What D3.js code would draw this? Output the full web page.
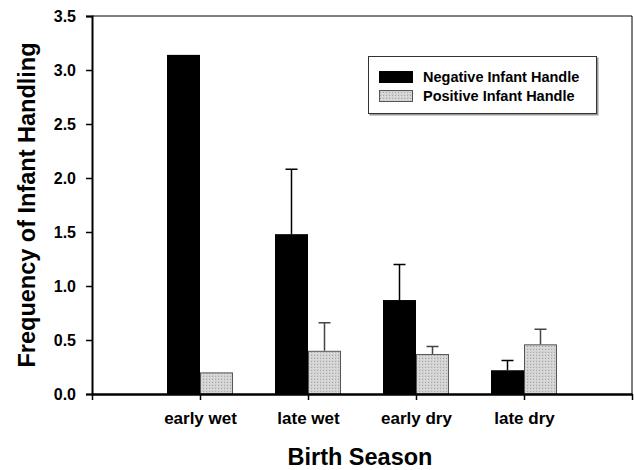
<!DOCTYPE html>
<html>
<head>
<meta charset="utf-8">
<script src="https://cdnjs.cloudflare.com/ajax/libs/d3/7.8.5/d3.min.js"></script>
<style>
body { margin: 0; background: #fff; }
text { font-family: "Liberation Sans", Arial, sans-serif; font-weight: bold; }
</style>
</head>
<body>
<svg></svg>
<script>
var width = 634,
    height = 470;
var svg = d3.select("svg")
    .attr("width", width)
    .attr("height", height);

// data
var seasons = ["early wet", "late wet", "early dry", "late dry"];
var negative = [3.14, 1.48, 0.87, 0.22];
var negativeErr = [null, 2.08, 1.20, 0.31]; // top of error bar
var positive = [0.20, 0.40, 0.37, 0.46];
var positiveErr = [null, 0.66, 0.44, 0.60];
var yTicks = [0, 0.5, 1.0, 1.5, 2.0, 2.5, 3.0, 3.5];
var seriesNames = ["Negative Infant Handle", "Positive Infant Handle"];

var margin = {left: 92, top: 16, right: 2, bottom: 76};
var pw = width - margin.left - margin.right,
    ph = height - margin.top - margin.bottom;

// positions 0..5, categories sit at 1..4
var x = d3.scaleLinear().domain([0, seasons.length + 1]).range([0, pw]);
var y = d3.scaleLinear().domain([0, 3.5]).range([ph, 0]);
var barW = 33;

// dotted grey fill
var defs = svg.append("defs");
var pat = defs.append("pattern")
    .attr("id", "dots")
    .attr("width", 3).attr("height", 3)
    .attr("patternUnits", "userSpaceOnUse");
pat.append("rect").attr("width", 3).attr("height", 3).attr("fill", "#d2d2d2");
pat.append("rect").attr("width", 1).attr("height", 1).attr("fill", "#a8a8a8");
pat.append("rect").attr("x", 2).attr("y", 1).attr("width", 1).attr("height", 1).attr("fill", "#e4e4e4");

var g = svg.append("g").attr("transform", "translate(" + margin.left + "," + margin.top + ")");

// top & right frame
g.append("path")
    .attr("d", "M0,0H" + pw + "V" + ph)
    .attr("fill", "none")
    .attr("stroke", "#000")
    .attr("stroke-width", 1);

// bars
var bars = g.append("g");
seasons.forEach(function(s, i) {
    var cx = x(i + 1);
    bars.append("rect")
        .attr("x", cx - barW).attr("y", y(negative[i]))
        .attr("width", barW).attr("height", y(0) - y(negative[i]))
        .attr("fill", "#000");
    bars.append("rect")
        .attr("x", cx + 0.5).attr("y", y(positive[i]) + 0.5)
        .attr("width", barW - 1).attr("height", y(0) - y(positive[i]) - 0.5)
        .attr("fill", "url(#dots)")
        .attr("stroke", "#555").attr("stroke-width", 1);
    if (negativeErr[i] != null) {
        var ex = cx - barW / 2;
        bars.append("path")
            .attr("d", "M" + ex + "," + y(negative[i]) + "V" + y(negativeErr[i]) +
                "M" + (ex - 6) + "," + y(negativeErr[i]) + "H" + (ex + 6))
            .attr("stroke", "#000").attr("stroke-width", 1.5).attr("fill", "none");
    }
    if (positiveErr[i] != null) {
        var px = cx + barW / 2;
        bars.append("path")
            .attr("d", "M" + px + "," + y(positive[i]) + "V" + y(positiveErr[i]) +
                "M" + (px - 6) + "," + y(positiveErr[i]) + "H" + (px + 6))
            .attr("stroke", "#444").attr("stroke-width", 1.5).attr("fill", "none");
    }
});

// axes
var yAxis = d3.axisLeft(y).tickValues(yTicks).tickFormat(d3.format(".1f")).tickSize(6).tickPadding(10);
var yg = g.append("g").call(yAxis);
yg.select(".domain").attr("stroke-width", 2);
yg.selectAll(".tick line").attr("stroke-width", 1.5);
yg.selectAll("text").style("font-size", "16px").attr("fill", "#000");

var xAxis = d3.axisBottom(x).tickValues(d3.range(0, seasons.length + 2))
    .tickFormat(function(d) { return seasons[d - 1] || ""; })
    .tickSize(6).tickSizeOuter(0).tickPadding(12);
var xg = g.append("g").attr("transform", "translate(0," + ph + ")").call(xAxis);
xg.select(".domain").attr("stroke-width", 2.5);
xg.selectAll(".tick line").attr("stroke-width", 1.5);
xg.selectAll("text").style("font-size", "17px").attr("fill", "#000");

// titles
svg.append("text")
    .attr("x", margin.left + pw / 2 - 2).attr("y", 465)
    .attr("text-anchor", "middle")
    .style("font-size", "23.5px")
    .text("Birth Season");
svg.append("text")
    .attr("transform", "translate(35," + (margin.top + ph / 2) + ") rotate(-90)")
    .attr("text-anchor", "middle")
    .style("font-size", "23.5px")
    .text("Frequency of Infant Handling");

// legend
var leg = svg.append("g").attr("transform", "translate(368,56)");
leg.append("rect")
    .attr("x", 1.5).attr("y", 1.5).attr("width", 229).attr("height", 58)
    .attr("fill", "#999");
leg.append("rect")
    .attr("x", 0.5).attr("y", 0.5).attr("width", 228).attr("height", 57)
    .attr("fill", "#fff").attr("stroke", "#333").attr("stroke-width", 1);
seriesNames.forEach(function(n, i) {
    leg.append("rect")
        .attr("x", 11.5).attr("y", 15.5 + i * 19).attr("width", 33).attr("height", 11)
        .attr("fill", i == 0 ? "#000" : "url(#dots)")
        .attr("stroke", i == 0 ? "#000" : "#555");
    leg.append("text")
        .attr("x", 55).attr("y", 25.5 + i * 19)
        .style("font-size", "14.5px")
        .text(n);
});
</script>
</body>
</html>
